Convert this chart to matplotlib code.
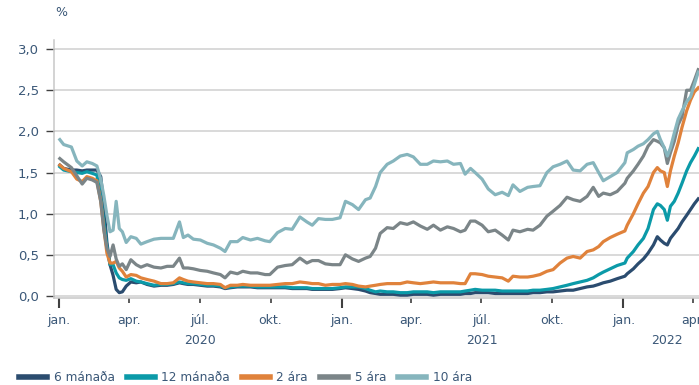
import numpy as np
import pandas as pd
import matplotlib
matplotlib.use("Agg")
import matplotlib.pyplot as plt
import matplotlib.dates as mdates
from matplotlib.ticker import FuncFormatter

# dagsetningar mælinga
dates = pd.to_datetime([
    "2020-01-02", "2020-01-07", "2020-01-17", "2020-01-24", "2020-01-31", "2020-02-06",
    "2020-02-13", "2020-02-19", "2020-02-24", "2020-02-28", "2020-03-03", "2020-03-07",
    "2020-03-11", "2020-03-15", "2020-03-19", "2020-03-23", "2020-03-28", "2020-04-03",
    "2020-04-10", "2020-04-16", "2020-04-24", "2020-05-03", "2020-05-12", "2020-05-20",
    "2020-05-28", "2020-06-05", "2020-06-10", "2020-06-16", "2020-06-23", "2020-07-02",
    "2020-07-11", "2020-07-19", "2020-07-28", "2020-08-03", "2020-08-10", "2020-08-19",
    "2020-08-26", "2020-09-05", "2020-09-14", "2020-09-24", "2020-09-30", "2020-10-10",
    "2020-10-20", "2020-10-29", "2020-11-08", "2020-11-17", "2020-11-24", "2020-12-02",
    "2020-12-11", "2020-12-20", "2020-12-30", "2021-01-06", "2021-01-15", "2021-01-23",
    "2021-02-01", "2021-02-07", "2021-02-14", "2021-02-20", "2021-03-01", "2021-03-09",
    "2021-03-18", "2021-03-27", "2021-04-04", "2021-04-13", "2021-04-22", "2021-04-30",
    "2021-05-09", "2021-05-18", "2021-05-26", "2021-06-04", "2021-06-10", "2021-06-17",
    "2021-06-23", "2021-07-02", "2021-07-10", "2021-07-19", "2021-07-28", "2021-08-05",
    "2021-08-11", "2021-08-20", "2021-08-30", "2021-09-06", "2021-09-15", "2021-09-24",
    "2021-10-02", "2021-10-11", "2021-10-20", "2021-10-28", "2021-11-06", "2021-11-15",
    "2021-11-23", "2021-11-30", "2021-12-06", "2021-12-15", "2021-12-24", "2022-01-03",
    "2022-01-06", "2022-01-14", "2022-01-20", "2022-01-27", "2022-02-02", "2022-02-09",
    "2022-02-14", "2022-02-18", "2022-02-23", "2022-02-27", "2022-03-03", "2022-03-08",
    "2022-03-13", "2022-03-18", "2022-03-24", "2022-03-29", "2022-04-03", "2022-04-08",
])

man6 = [
    1.59, 1.55, 1.53, 1.53, 1.52, 1.53, 1.53, 1.53, 1.45, 1.10, 0.65, 0.38,
    0.25, 0.08, 0.04, 0.05, 0.12, 0.17, 0.16, 0.17, 0.14, 0.12, 0.13, 0.13,
    0.14, 0.16, 0.15, 0.14, 0.14, 0.13, 0.12, 0.12, 0.11, 0.09, 0.10, 0.11,
    0.11, 0.11, 0.10, 0.10, 0.10, 0.10, 0.10, 0.09, 0.09, 0.09, 0.08, 0.08,
    0.08, 0.08, 0.09, 0.10, 0.09, 0.08, 0.06, 0.04, 0.03, 0.02, 0.02, 0.02,
    0.01, 0.01, 0.02, 0.02, 0.02, 0.01, 0.02, 0.02, 0.02, 0.02, 0.03, 0.03,
    0.04, 0.04, 0.04, 0.03, 0.03, 0.03, 0.03, 0.03, 0.03, 0.04, 0.04, 0.05,
    0.05, 0.06, 0.07, 0.07, 0.09, 0.11, 0.12, 0.14, 0.16, 0.18, 0.21, 0.24,
    0.27, 0.33, 0.39, 0.45, 0.52, 0.62, 0.72, 0.68, 0.64, 0.62, 0.70, 0.76,
    0.82, 0.90, 0.98, 1.05, 1.12, 1.18,
]
man12 = [
    1.57, 1.53, 1.51, 1.50, 1.49, 1.51, 1.49, 1.47, 1.20, 0.90, 0.60, 0.38,
    0.38, 0.28, 0.22, 0.20, 0.19, 0.21, 0.18, 0.17, 0.15, 0.13, 0.14, 0.14,
    0.15, 0.17, 0.16, 0.15, 0.15, 0.14, 0.13, 0.13, 0.12, 0.10, 0.11, 0.12,
    0.12, 0.12, 0.11, 0.11, 0.11, 0.11, 0.11, 0.10, 0.10, 0.10, 0.09, 0.09,
    0.09, 0.09, 0.10, 0.11, 0.11, 0.11, 0.09, 0.07, 0.05, 0.06, 0.05, 0.05,
    0.04, 0.04, 0.05, 0.05, 0.05, 0.04, 0.05, 0.05, 0.05, 0.05, 0.06, 0.07,
    0.08, 0.07, 0.07, 0.07, 0.06, 0.06, 0.06, 0.06, 0.06, 0.07, 0.07, 0.08,
    0.09, 0.11, 0.13, 0.15, 0.17, 0.19, 0.22, 0.26, 0.29, 0.33, 0.37, 0.40,
    0.46, 0.54, 0.62, 0.70, 0.82, 1.05, 1.12, 1.10, 1.05, 0.92, 1.09, 1.15,
    1.25, 1.37, 1.52, 1.62, 1.70, 1.79,
]
ara2 = [
    1.59, 1.55, 1.51, 1.42, 1.39, 1.45, 1.43, 1.40, 1.15, 0.82, 0.52, 0.40,
    0.40, 0.42, 0.34, 0.30, 0.23, 0.26, 0.25, 0.22, 0.20, 0.18, 0.15, 0.15,
    0.16, 0.22, 0.20, 0.18, 0.17, 0.16, 0.15, 0.15, 0.14, 0.10, 0.13, 0.13,
    0.14, 0.13, 0.13, 0.13, 0.13, 0.14, 0.15, 0.15, 0.17, 0.16, 0.15, 0.15,
    0.13, 0.14, 0.14, 0.15, 0.14, 0.12, 0.11, 0.12, 0.13, 0.14, 0.15, 0.15,
    0.15, 0.17, 0.16, 0.15, 0.16, 0.17, 0.16, 0.16, 0.16, 0.15, 0.15, 0.27,
    0.27, 0.26, 0.24, 0.23, 0.22, 0.18, 0.24, 0.23, 0.23, 0.24, 0.26, 0.30,
    0.32, 0.40, 0.46, 0.48, 0.46, 0.54, 0.56, 0.60, 0.66, 0.71, 0.75, 0.79,
    0.86, 1.00, 1.12, 1.25, 1.33, 1.50, 1.56, 1.52, 1.50, 1.33, 1.52, 1.70,
    1.86, 2.05, 2.25, 2.38, 2.48, 2.53,
]
ara5 = [
    1.67, 1.63, 1.56, 1.46, 1.36, 1.43, 1.41, 1.38, 1.15, 0.80, 0.58, 0.48,
    0.62, 0.45, 0.36, 0.39, 0.32, 0.44, 0.38, 0.35, 0.38, 0.35, 0.34, 0.36,
    0.36, 0.46, 0.34, 0.34, 0.33, 0.31, 0.30, 0.28, 0.26, 0.22, 0.29, 0.27,
    0.30, 0.28, 0.28, 0.26, 0.26, 0.35, 0.37, 0.38, 0.46, 0.40, 0.43, 0.43,
    0.39, 0.38, 0.38, 0.50, 0.45, 0.42, 0.46, 0.48, 0.58, 0.76, 0.83, 0.82,
    0.89, 0.87, 0.90, 0.85, 0.81, 0.86, 0.80, 0.84, 0.82, 0.78, 0.80, 0.91,
    0.91, 0.86, 0.78, 0.80, 0.74, 0.68, 0.80, 0.78, 0.81, 0.80, 0.86, 0.97,
    1.03, 1.10, 1.20, 1.17, 1.15, 1.21, 1.32, 1.21, 1.25, 1.23, 1.27, 1.37,
    1.43, 1.52, 1.60, 1.70, 1.82, 1.90, 1.88, 1.86, 1.80, 1.61, 1.74, 1.88,
    2.08, 2.18, 2.50, 2.50, 2.62, 2.75,
]
ara10 = [
    1.90, 1.84, 1.81, 1.64, 1.58, 1.63, 1.61, 1.58, 1.42, 1.22, 0.98, 0.78,
    0.80, 1.15, 0.82, 0.78, 0.65, 0.72, 0.70, 0.63, 0.66, 0.69, 0.70, 0.70,
    0.70, 0.90, 0.71, 0.74, 0.69, 0.68, 0.64, 0.62, 0.58, 0.54, 0.66, 0.66,
    0.71, 0.68, 0.70, 0.67, 0.66, 0.77, 0.82, 0.81, 0.96, 0.90, 0.86, 0.94,
    0.93, 0.93, 0.95, 1.15, 1.11, 1.05, 1.17, 1.19, 1.33, 1.50, 1.60, 1.64,
    1.70, 1.72, 1.69, 1.60, 1.60, 1.64, 1.63, 1.64, 1.60, 1.61, 1.48, 1.55,
    1.50, 1.42, 1.30, 1.23, 1.26, 1.22, 1.35, 1.27, 1.32, 1.33, 1.34, 1.50,
    1.57, 1.60, 1.64, 1.53, 1.52, 1.60, 1.62, 1.50, 1.40, 1.45, 1.50, 1.62,
    1.74, 1.78, 1.82, 1.85, 1.90, 1.97, 2.00, 1.90, 1.80, 1.70, 1.80, 1.98,
    2.15, 2.25, 2.36, 2.42, 2.57, 2.72,
]

labels = ["6 mánaða", "12 mánaða", "2 ára", "5 ára", "10 ára"]
colors = ["#2b4c6f", "#0b9aa8", "#e0823b", "#7b8588", "#86b5bd"]
series = [man6, man12, ara2, ara5, ara10]

txt = "#3b5878"

fig = plt.figure(figsize=(6.99, 3.85), dpi=100)
ax = fig.add_axes([0.0773, 0.227, 0.9227, 0.669])

for vals, lab, col in zip(series, labels, colors):
    ax.plot(dates, vals, color=col, lw=2.3, label=lab, solid_joinstyle="round")

ax.set_ylim(-0.02, 3.11)
ax.set_xlim(pd.Timestamp("2019-12-25 12:00"), pd.Timestamp("2022-04-09"))
ax.set_yticks([0, 0.5, 1.0, 1.5, 2.0, 2.5, 3.0])
ax.yaxis.set_major_formatter(FuncFormatter(lambda v, p: f"{v:.1f}".replace(".", ",")))
ax.grid(axis="y", color="#cfcfcf", lw=1.1)
ax.set_axisbelow(True)

for s in ["top", "right"]:
    ax.spines[s].set_visible(False)
ax.spines["left"].set_color("#c8c8c8")
ax.spines["bottom"].set_color("#c8c8c8")
ax.spines["left"].set_linewidth(1.1)
ax.spines["bottom"].set_linewidth(1.1)

# ársfjórðungar: jan. sem aðalmerki, hinir sem aukamerki
ax.xaxis.set_major_locator(mdates.MonthLocator(bymonth=[1]))
ax.xaxis.set_minor_locator(mdates.MonthLocator(bymonth=[4, 7, 10]))
ax.xaxis.set_major_formatter(FuncFormatter(lambda v, p: "jan."))
manudir = {4: "apr.", 7: "júl.", 10: "okt."}
ax.xaxis.set_minor_formatter(FuncFormatter(lambda v, p: manudir[mdates.num2date(v).month]))

ax.tick_params(axis="x", which="major", length=7.5, width=1.5, color="#404040",
               pad=4.0, labelsize=9, labelcolor=txt)
ax.tick_params(axis="x", which="minor", length=3.5, width=1.2, color="#404040",
               pad=8.0, labelsize=9, labelcolor=txt)
ax.tick_params(axis="y", length=6, width=1.0, color="#404040", pad=5,
               labelsize=9.5, labelcolor=txt)

# ártöl undir mánuðum
for yr, day in [("2020", "2020-07-02"), ("2021", "2021-07-02"), ("2022", "2022-02-27")]:
    ax.annotate(yr, xy=(mdates.date2num(pd.Timestamp(day)), 0), xycoords=("data", "axes fraction"),
                xytext=(0, -31), textcoords="offset points", ha="center", va="center",
                fontsize=9, color=txt, annotation_clip=False)

fig.text(0.079, 0.968, "%", fontsize=9, color=txt, va="center")

leg = fig.legend(loc="lower left", bbox_to_anchor=(0.012, -0.025), ncol=5, frameon=False,
                 fontsize=8.7, handlelength=2.3, handletextpad=0.55, columnspacing=1.0)
for h in leg.get_lines():
    h.set_linewidth(4)
for t in leg.get_texts():
    t.set_color(txt)

fig.savefig("out.png", dpi=100)
